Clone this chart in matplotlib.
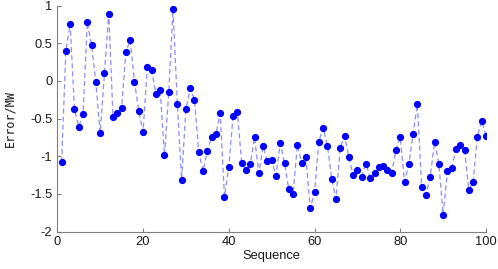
import matplotlib
matplotlib.use('Agg')
import matplotlib.pyplot as plt

# Error sequence
sequence = list(range(1, 101))
error = [
    -1.08, 0.40, 0.76, -0.38, -0.61, -0.44, 0.78, 0.47, -0.02, -0.69,
    0.10, 0.89, -0.48, -0.43, -0.36, 0.38, 0.54, -0.01, -0.40, -0.68,
    0.18, 0.15, -0.18, -0.12, -0.99, -0.15, 0.95, -0.31, -1.31, -0.38,
    -0.10, -0.25, -0.95, -1.20, -0.93, -0.74, -0.71, -0.43, -1.54, -1.14,
    -0.47, -0.41, -1.09, -1.18, -1.11, -0.75, -1.23, -0.87, -1.07, -1.05,
    -1.26, -0.83, -1.09, -1.44, -1.50, -0.85, -1.09, -1.01, -1.69, -1.48,
    -0.81, -0.62, -0.86, -1.30, -1.57, -0.89, -0.73, -1.01, -1.25, -1.18,
    -1.27, -1.10, -1.29, -1.22, -1.14, -1.13, -1.19, -1.22, -0.92, -0.75,
    -1.34, -1.11, -0.70, -0.31, -1.41, -1.52, -1.27, -0.81, -1.10, -1.78,
    -1.20, -1.16, -0.91, -0.85, -0.92, -1.45, -1.34, -0.74, -0.53, -0.73,
]

plt.rcParams['font.family'] = ['Liberation Sans', 'DejaVu Sans']

fig = plt.figure(figsize=(4.98, 2.69), dpi=100)
ax = fig.add_axes([57.3 / 498, 1 - 231.5 / 269, (486 - 57.3) / 498, (231.5 - 5.5) / 269])

ax.plot(sequence, error, linestyle=(0, (4, 2.5)), color='#8c8cff', linewidth=0.9, zorder=1)
ax.plot(sequence, error, linestyle='none', marker='o', color='#0000ff', markersize=4.2, zorder=2)

ax.set_xlim(0, 100)
ax.set_ylim(-2, 1)
ax.set_xticks([0, 20, 40, 60, 80, 100])
ax.set_yticks([-2, -1.5, -1, -0.5, 0, 0.5, 1])
ax.set_yticklabels(['-2', '-1.5', '-1', '-0.5', '0', '0.5', '1'])

for s in ['top', 'right']:
    ax.spines[s].set_visible(False)
for s in ['left', 'bottom']:
    ax.spines[s].set_color('#808080')
    ax.spines[s].set_linewidth(0.8)

ax.tick_params(direction='in', length=3, width=0.8, color='#808080', labelsize=9.3, labelcolor='#1a1a1a')
ax.set_xlabel('Sequence', fontsize=9.3, color='#1a1a1a', labelpad=1)
ax.set_ylabel('Error/MW', fontsize=8.5, family='DejaVu Sans Mono', color='#1a1a1a', labelpad=10)

fig.savefig('out.png', dpi=100)
